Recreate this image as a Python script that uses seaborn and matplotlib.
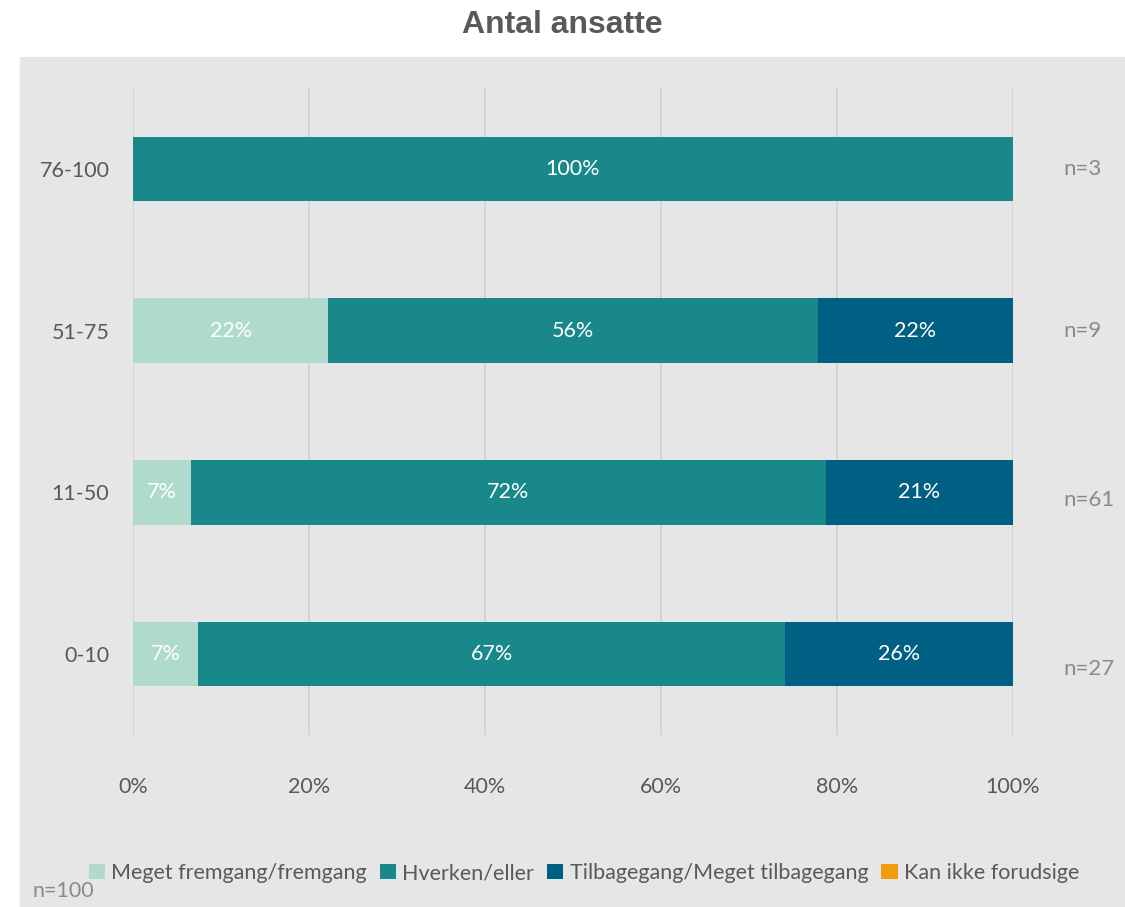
import pandas as pd
import seaborn as sns
import matplotlib.pyplot as plt
from matplotlib.patches import Rectangle, Patch

# Chart data (percent of respondents per company size)
CATEGORIES = ["76-100", "51-75", "11-50", "0-10"]
SERIES     = ["Meget fremgang/fremgang", "Hverken/eller",
              "Tilbagegang/Meget tilbagegang", "Kan ikke forudsige"]
FREMGANG   = [0.0, 22.2, 6.6, 7.4]
HVERKEN    = [100.0, 55.6, 72.1, 66.7]
TILBAGE    = [0.0, 22.2, 21.3, 25.9]
KAN_IKKE   = [0.0, 0.0, 0.0, 0.0]
N_LABELS   = ["n=3", "n=9", "n=61", "n=27"]
X_TICKS    = [0, 20, 40, 60, 80, 100]
PALETTE    = ["#b0dacb", "#19888a", "#006083", "#f39c12"]

# the n= labels in the original sit a bit lower for the bottom two rows
N_DY       = [0.0, 0.0, 0.05, 0.09]

TEXT_DARK  = "#595959"
TEXT_LIGHT = "#8a8a8a"
BG_GRAY    = "#e6e6e6"


def build_frame():
    rows = []
    for s, vals in zip(SERIES, [FREMGANG, HVERKEN, TILBAGE, KAN_IKKE]):
        for cat, v in zip(CATEGORIES, vals):
            rows.append({"group": cat, "series": s, "value": v})
    df = pd.DataFrame(rows)
    df["series"] = pd.Categorical(df["series"], categories=SERIES, ordered=True)
    df = df.sort_values(["group", "series"])
    df["cum"] = df.groupby("group")["value"].cumsum()
    return df


def main():
    df = build_frame()

    sns.set_theme(style="white")
    plt.rcParams["font.family"] = ["Lato", "DejaVu Sans"]

    fig = plt.figure(figsize=(11.25, 9.07), dpi=100, facecolor="white")
    # grey chart area like the original office chart
    fig.patches.append(Rectangle((20 / 1125, 0), 1.0, 850 / 907,
                                 transform=fig.transFigure, color=BG_GRAY, zorder=-10))
    ax = fig.add_axes([133 / 1125, 172 / 907, 880 / 1125, 647 / 907])
    ax.patch.set_alpha(0)

    # stacked bars: draw cumulative totals back to front
    for s, col in reversed(list(zip(SERIES, PALETTE))):
        sub = df[df["series"] == s]
        sns.barplot(data=sub, x="cum", y="group", order=CATEGORIES, color=col,
                    width=0.4, orient="h", errorbar=None, saturation=1,
                    linewidth=0, ax=ax, zorder=2)

    # segment labels
    for _, r in df.iterrows():
        if r["value"] <= 0:
            continue
        yi = CATEGORIES.index(r["group"])
        ax.text(r["cum"] - r["value"] / 2, yi, f"{round(r['value'])}%",
                ha="center", va="center", color="white", fontsize=15.5, zorder=5)

    # n per group, right of the plot
    for yi, (lab, dy) in enumerate(zip(N_LABELS, N_DY)):
        ax.text(1.057, yi + dy, lab, transform=ax.get_yaxis_transform(),
                ha="left", va="center", color=TEXT_LIGHT, fontsize=16, clip_on=False)

    ax.set_xlim(0, 100)
    ax.set_ylim(3.5, -0.5)
    ax.set_xticks(X_TICKS)
    ax.set_xticklabels([f"{t}%" for t in X_TICKS])
    ax.set_xlabel("")
    ax.set_ylabel("")
    ax.tick_params(axis="x", length=0, pad=30, labelsize=15.5, labelcolor=TEXT_DARK)
    ax.tick_params(axis="y", length=0, pad=17, labelsize=15.5, labelcolor=TEXT_DARK)
    for side in ax.spines:
        ax.spines[side].set_visible(False)
    ax.xaxis.grid(True, color="#d3d3d3", linewidth=1.3)
    ax.yaxis.grid(False)
    ax.set_axisbelow(True)

    fig.text(0.5, 1 - 25 / 907, "Antal ansatte", ha="center", va="center",
             fontsize=23, fontweight="bold", color=TEXT_DARK,
             family=["Liberation Sans", "DejaVu Sans"])

    handles = [Patch(facecolor=c, edgecolor="none") for c in PALETTE]
    leg = fig.legend(handles, SERIES, loc="center", ncol=4,
                     bbox_to_anchor=(584 / 1125, 1 - 873 / 907), frameon=False,
                     fontsize=15.5, handlelength=0.75, handleheight=0.75,
                     handletextpad=0.3, columnspacing=0.6)
    for t in leg.get_texts():
        t.set_color(TEXT_DARK)

    fig.text(33 / 1125, 1 - 891 / 907, "n=100", ha="left", va="center",
             color=TEXT_LIGHT, fontsize=15.5)

    fig.savefig("out.png", dpi=100)


if __name__ == "__main__":
    main()
